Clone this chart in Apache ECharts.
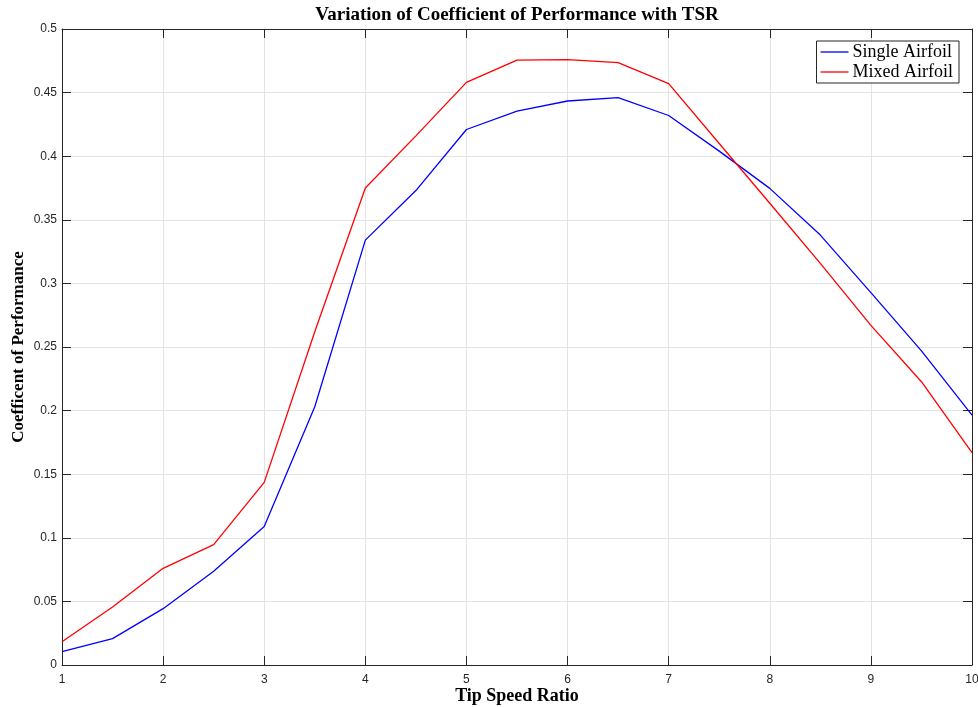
<!DOCTYPE html>
<html lang="en">

<head>
  <meta charset="UTF-8">
  <title>Variation of Coefficient of Performance with TSR</title>
  <script src="https://cdn.jsdelivr.net/npm/echarts@6.0.0/dist/echarts.min.js"></script>
  <style>
    html,
    body {
      height: 100%;
      margin: 0;
      padding: 0;
      background-color: #ffffff;
    }

    #chart {
      width: 978px;
      height: 707px;
    }
  </style>
</head>

<body>
  <div id="chart"></div>
  <script>
    // tip speed ratio samples
    const tsr = [1, 1.5, 2, 2.5, 3, 3.5, 4, 4.5, 5, 5.5, 6, 6.5, 7, 7.5, 8, 8.5, 9, 9.5, 10];
    // Cp values
    const singleAirfoil = [0.0105, 0.0207, 0.0443, 0.0737, 0.1088, 0.203, 0.334, 0.373, 0.421, 0.4355,
      0.4434, 0.446, 0.432, 0.404, 0.3747, 0.338, 0.2927, 0.247, 0.1965];
    const mixedAirfoil = [0.0183, 0.0456, 0.076, 0.0946, 0.1436, 0.262, 0.375, 0.416, 0.458, 0.4756,
      0.476, 0.4735, 0.457, 0.41, 0.363, 0.3158, 0.267, 0.2227, 0.167];
    const seriesNames = ['Single Airfoil', 'Mixed Airfoil'];

    const toPairs = vals => vals.map((v, i) => [tsr[i], v]);

    const axisColor = '#262626';
    const gridLine = { show: true, lineStyle: { color: '#e3e3e3', width: 1 } };
    const tickFont = { fontFamily: 'Liberation Sans', fontSize: 12, color: axisColor };
    const nameFont = { fontFamily: 'Liberation Serif', fontWeight: 'bold', color: '#000' };
    const boxTick = { show: true, inside: true, length: 9, lineStyle: { color: axisColor } };
    const boxLine = { show: true, onZero: false, lineStyle: { color: axisColor, width: 1 } };

    const chart = echarts.init(document.getElementById('chart'));
    chart.setOption({
      animation: false,
      title: {
        text: 'Variation of Coefficient of Performance with TSR',
        left: 512,
        top: 1,
        textAlign: 'center',
        textStyle: { fontFamily: 'Liberation Serif', fontWeight: 'bold', fontSize: 19, color: '#000' }
      },
      legend: {
        orient: 'vertical',
        right: 19,
        top: 41,
        data: seriesNames,
        icon: 'rect',
        backgroundColor: '#fff',
        borderColor: axisColor,
        borderWidth: 1,
        borderRadius: 0,
        padding: [2, 6, 2, 4],
        itemGap: 2,
        itemWidth: 28,
        itemHeight: 1.3,
        textStyle: { fontFamily: 'Liberation Serif', fontSize: 18, color: '#000', padding: [0, 0, 0, -1] }
      },
      grid: { left: 62, right: 6, top: 29, bottom: 42, outerBoundsMode: 'none', containLabel: false },
      xAxis: [{
        type: 'value',
        min: 1,
        max: 10,
        interval: 1,
        name: 'Tip Speed Ratio',
        nameLocation: 'middle',
        nameGap: 22,
        nameMoveOverlap: false,
        nameTextStyle: Object.assign({ fontSize: 18 }, nameFont),
        axisLine: boxLine,
        axisTick: boxTick,
        axisLabel: Object.assign({ margin: 9 }, tickFont),
        splitLine: gridLine
      }, {
        type: 'value',
        position: 'top',
        min: 1,
        max: 10,
        interval: 1,
        axisLine: boxLine,
        axisTick: boxTick,
        axisLabel: { show: false },
        splitLine: { show: false }
      }],
      yAxis: [{
        type: 'value',
        min: 0,
        max: 0.5,
        interval: 0.05,
        name: 'Coefficent of Performance',
        nameLocation: 'middle',
        nameGap: 35,
        nameMoveOverlap: false,
        nameTextStyle: Object.assign({ fontSize: 17 }, nameFont),
        axisLine: boxLine,
        axisTick: boxTick,
        axisLabel: Object.assign({ margin: 5 }, tickFont),
        splitLine: gridLine
      }, {
        type: 'value',
        position: 'right',
        min: 0,
        max: 0.5,
        interval: 0.05,
        axisLine: boxLine,
        axisTick: boxTick,
        axisLabel: { show: false },
        splitLine: { show: false }
      }],
      series: [{
        name: seriesNames[0],
        type: 'line',
        data: toPairs(singleAirfoil),
        symbol: 'none',
        lineStyle: { color: '#0000ff', width: 1.3 },
        itemStyle: { color: '#0000ff' }
      }, {
        name: seriesNames[1],
        type: 'line',
        data: toPairs(mixedAirfoil),
        symbol: 'none',
        lineStyle: { color: '#ff0000', width: 1.3 },
        itemStyle: { color: '#ff0000' }
      }]
    });
  </script>
</body>

</html>
